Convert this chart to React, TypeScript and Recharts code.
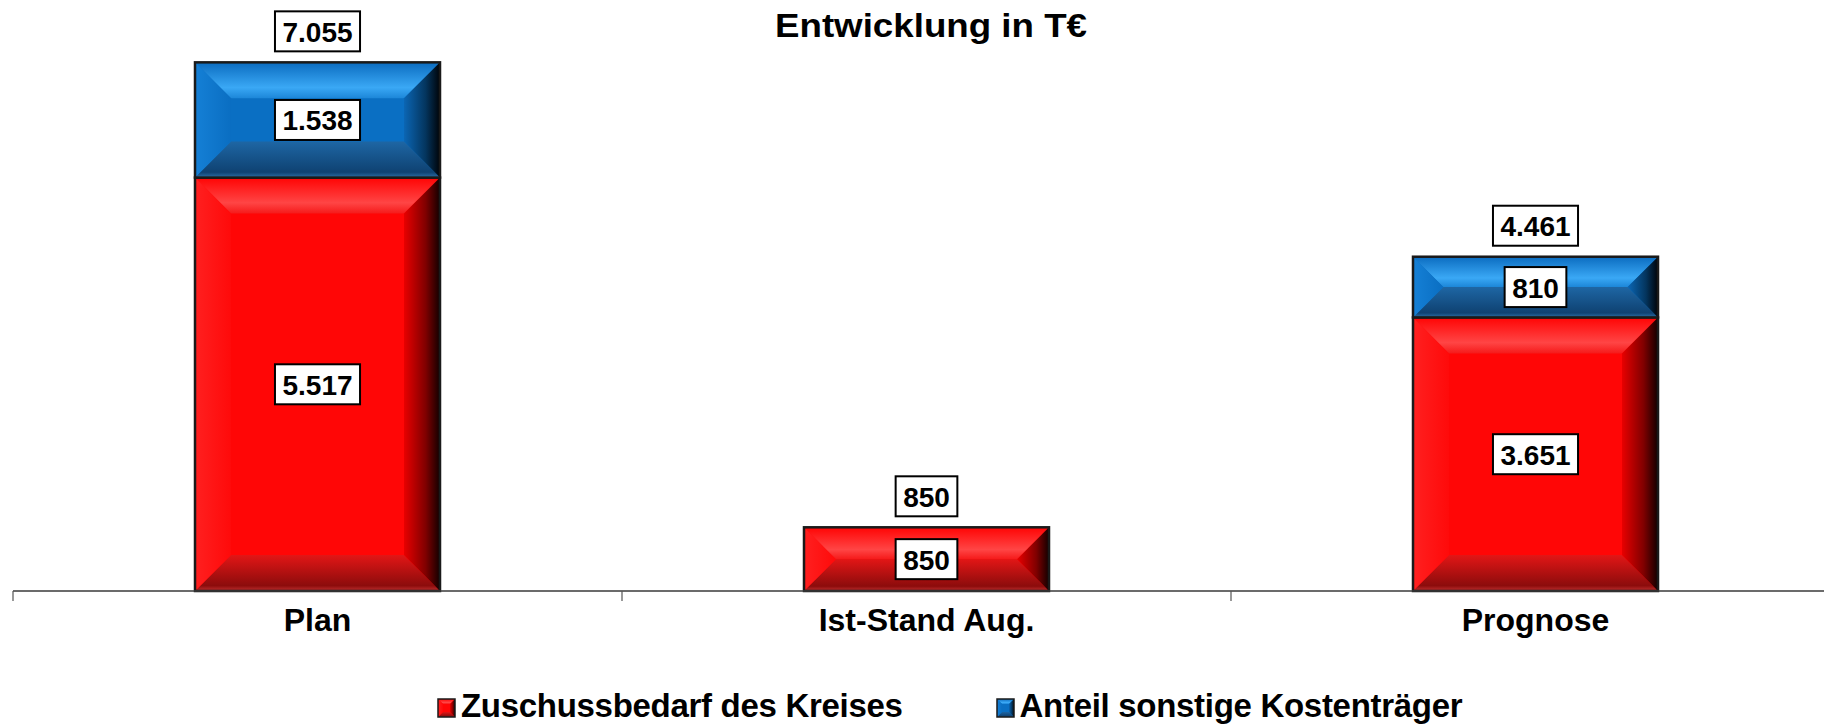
import React from "react"
import { BarChart, Bar, XAxis, YAxis, LabelList, Legend } from "recharts"

// Werte aus der Grafik (T€)
const categories = ["Plan", "Ist-Stand Aug.", "Prognose"]
const zuschuss = [5517, 850, 3651]
const sonstige = [1538, 0, 810]
const totals = [7055, 850, 4461]

const seriesNames = ["Zuschussbedarf des Kreises", "Anteil sonstige Kostenträger"]

const data = categories.map((name, i) => ({
  name,
  zuschuss: zuschuss[i],
  sonstige: sonstige[i],
  total: totals[i],
}))

const FONT = "'Liberation Sans', Arial, Helvetica, sans-serif"
const fmt = (v: number) => String(v).replace(/\B(?=(\d{3})+(?!\d))/g, ".")

// Breite der Zahl grob nach Arial-Laufweiten schätzen
const textWidth = (s: string, size: number) =>
  s.split("").reduce((w, c) => w + (c === "." ? 0.278 : 0.556), 0) * size

function BevelRect(props: any) {
  const { x, y, width: w, height: h, id, bevel = 36, strokeWidth = 2.5 } = props
  if (!h || h <= 0 || !w) return null
  const b = Math.min(bevel, h / 2, w / 2)
  const face = id === "red" ? "#FF0606" : "#0A6FC3"
  return (
    <g>
      <rect x={x} y={y} width={w} height={h} fill={face} />
      <polygon points={`${x},${y} ${x + w},${y} ${x + w - b},${y + b} ${x + b},${y + b}`} fill={`url(#${id}-top)`} />
      <polygon points={`${x},${y + h} ${x + w},${y + h} ${x + w - b},${y + h - b} ${x + b},${y + h - b}`} fill={`url(#${id}-bottom)`} />
      <polygon points={`${x},${y} ${x + b},${y + b} ${x + b},${y + h - b} ${x},${y + h}`} fill={`url(#${id}-left)`} />
      <polygon points={`${x + w},${y} ${x + w},${y + h} ${x + w - b},${y + h - b} ${x + w - b},${y + b}`} fill={`url(#${id}-right)`} />
      <rect x={x} y={y} width={w} height={h} fill="none" stroke="#1a1a1a" strokeWidth={strokeWidth} />
    </g>
  )
}

function ValueBox({ cx, cy, value }: { cx: number; cy: number; value: number }) {
  const s = fmt(value)
  const bw = textWidth(s, 28) + 15
  const bh = 40
  return (
    <g>
      <rect x={cx - bw / 2} y={cy - bh / 2} width={bw} height={bh} fill="#fff" stroke="#000" strokeWidth={2} />
      <text x={cx} y={cy + 1} textAnchor="middle" dominantBaseline="central" fontFamily={FONT} fontWeight={700} fontSize={28} fill="#000">
        {s}
      </text>
    </g>
  )
}

function SegLabel(props: any) {
  const vb = props.viewBox || props
  const { value } = props
  if (!value) return null
  return <ValueBox cx={vb.x + vb.width / 2} cy={vb.y + vb.height / 2} value={value} />
}

function TotalLabel(props: any) {
  const vb = props.viewBox || props
  const { value } = props
  if (!value) return null
  return <ValueBox cx={vb.x + vb.width / 2} cy={vb.y - 31} value={value} />
}

function CatTick(props: any) {
  const { x, y, payload } = props
  const half = payload && payload.offset ? payload.offset : 304.5
  const axisY = y - 17
  return (
    <g>
      <line x1={x - half} x2={x - half} y1={axisY} y2={axisY + 10} stroke="#555" strokeWidth={1.2} />
      <text x={x} y={y} dy="0.71em" textAnchor="middle" fontFamily={FONT} fontWeight={700} fontSize={32} fill="#000">
        {payload.value}
      </text>
    </g>
  )
}

function LegendContent(props: any) {
  const items = props.payload || []
  return (
    <div style={{ display: "flex", alignItems: "center", paddingLeft: 437, height: 36 }}>
      {items.map((it: any, i: number) => (
        <div key={i} style={{ display: "flex", alignItems: "center", marginRight: 93 }}>
          <svg width={19} height={20} style={{ marginRight: 5, marginTop: 4 }}>
            <BevelRect x={1} y={1} width={17} height={18} bevel={5} strokeWidth={1.5} id={i === 0 ? "red" : "blue"} />
          </svg>
          <span style={{ fontFamily: FONT, fontWeight: 700, fontSize: 33, letterSpacing: -0.3, lineHeight: "36px", color: "#000" }}>
            {seriesNames[i] ?? it.value}
          </span>
        </div>
      ))}
    </div>
  )
}

export default function App() {
  return (
    <div style={{ position: "absolute", left: 0, top: 0, width: 1824, height: 726, overflow: "hidden", background: "#fff" }}>
      <BarChart width={1850} height={726} data={data} margin={{ top: 29, right: 10, left: 13, bottom: 0 }} barSize={245}>
        <defs>
          <linearGradient id="red-top" x1="0" y1="0" x2="0" y2="1">
            <stop offset="0" stopColor="#FF0404" />
            <stop offset="0.7" stopColor="#FF4545" />
            <stop offset="1" stopColor="#F51A1A" />
          </linearGradient>
          <linearGradient id="red-bottom" x1="0" y1="0" x2="0" y2="1">
            <stop offset="0" stopColor="#E21616" />
            <stop offset="0.85" stopColor="#8C0C0C" />
            <stop offset="1" stopColor="#C03030" />
          </linearGradient>
          <linearGradient id="red-left" x1="0" y1="0" x2="1" y2="0">
            <stop offset="0" stopColor="#FF2020" />
            <stop offset="1" stopColor="#FF0A0A" />
          </linearGradient>
          <linearGradient id="red-right" x1="0" y1="0" x2="1" y2="0">
            <stop offset="0" stopColor="#E80000" />
            <stop offset="0.6" stopColor="#800000" />
            <stop offset="1" stopColor="#120000" />
          </linearGradient>
          <linearGradient id="blue-top" x1="0" y1="0" x2="0" y2="1">
            <stop offset="0" stopColor="#0B6CC0" />
            <stop offset="0.7" stopColor="#3AA8F5" />
            <stop offset="1" stopColor="#1C86D8" />
          </linearGradient>
          <linearGradient id="blue-bottom" x1="0" y1="0" x2="0" y2="1">
            <stop offset="0" stopColor="#1E66A4" />
            <stop offset="0.85" stopColor="#0F4272" />
            <stop offset="1" stopColor="#2C70A8" />
          </linearGradient>
          <linearGradient id="blue-left" x1="0" y1="0" x2="1" y2="0">
            <stop offset="0" stopColor="#1580D6" />
            <stop offset="1" stopColor="#0A6EC2" />
          </linearGradient>
          <linearGradient id="blue-right" x1="0" y1="0" x2="1" y2="0">
            <stop offset="0" stopColor="#0B66B4" />
            <stop offset="0.6" stopColor="#04355E" />
            <stop offset="1" stopColor="#000308" />
          </linearGradient>
        </defs>
        <XAxis
          dataKey="name"
          height={135}
          interval={0}
          axisLine={{ stroke: "#3a3a3a", strokeWidth: 1.5 }}
          tickLine={false}
          tickSize={0}
          tickMargin={17}
          tick={(p: any) => <CatTick {...p} />}
        />
        <YAxis hide domain={[0, 7500]} ticks={[0, 2500, 5000, 7500]} />
        <Bar
          dataKey="zuschuss"
          stackId="a"
          name={seriesNames[0]}
          fill="#FF0606"
          isAnimationActive={false}
          shape={(p: any) => <BevelRect {...p} id="red" />}
        >
          <LabelList dataKey="zuschuss" content={(p: any) => <SegLabel {...p} />} />
        </Bar>
        <Bar
          dataKey="sonstige"
          stackId="a"
          name={seriesNames[1]}
          fill="#0A6FC3"
          isAnimationActive={false}
          shape={(p: any) => <BevelRect {...p} id="blue" />}
        >
          <LabelList dataKey="sonstige" content={(p: any) => <SegLabel {...p} />} />
          <LabelList dataKey="total" content={(p: any) => <TotalLabel {...p} />} />
        </Bar>
        <Legend
          layout="horizontal"
          verticalAlign="middle"
          align="center"
          wrapperStyle={{ top: 688, left: 0, width: 1824 }}
          content={(p: any) => <LegendContent {...p} />}
        />
      </BarChart>
      <svg width={1824} height={60} style={{ position: "absolute", left: 0, top: 0, pointerEvents: "none" }}>
        <text x={931} y={37} textAnchor="middle" fontFamily={FONT} fontWeight={700} fontSize={33} textLength={312} lengthAdjust="spacingAndGlyphs" fill="#000">
          Entwicklung in T€
        </text>
      </svg>
    </div>
  )
}
